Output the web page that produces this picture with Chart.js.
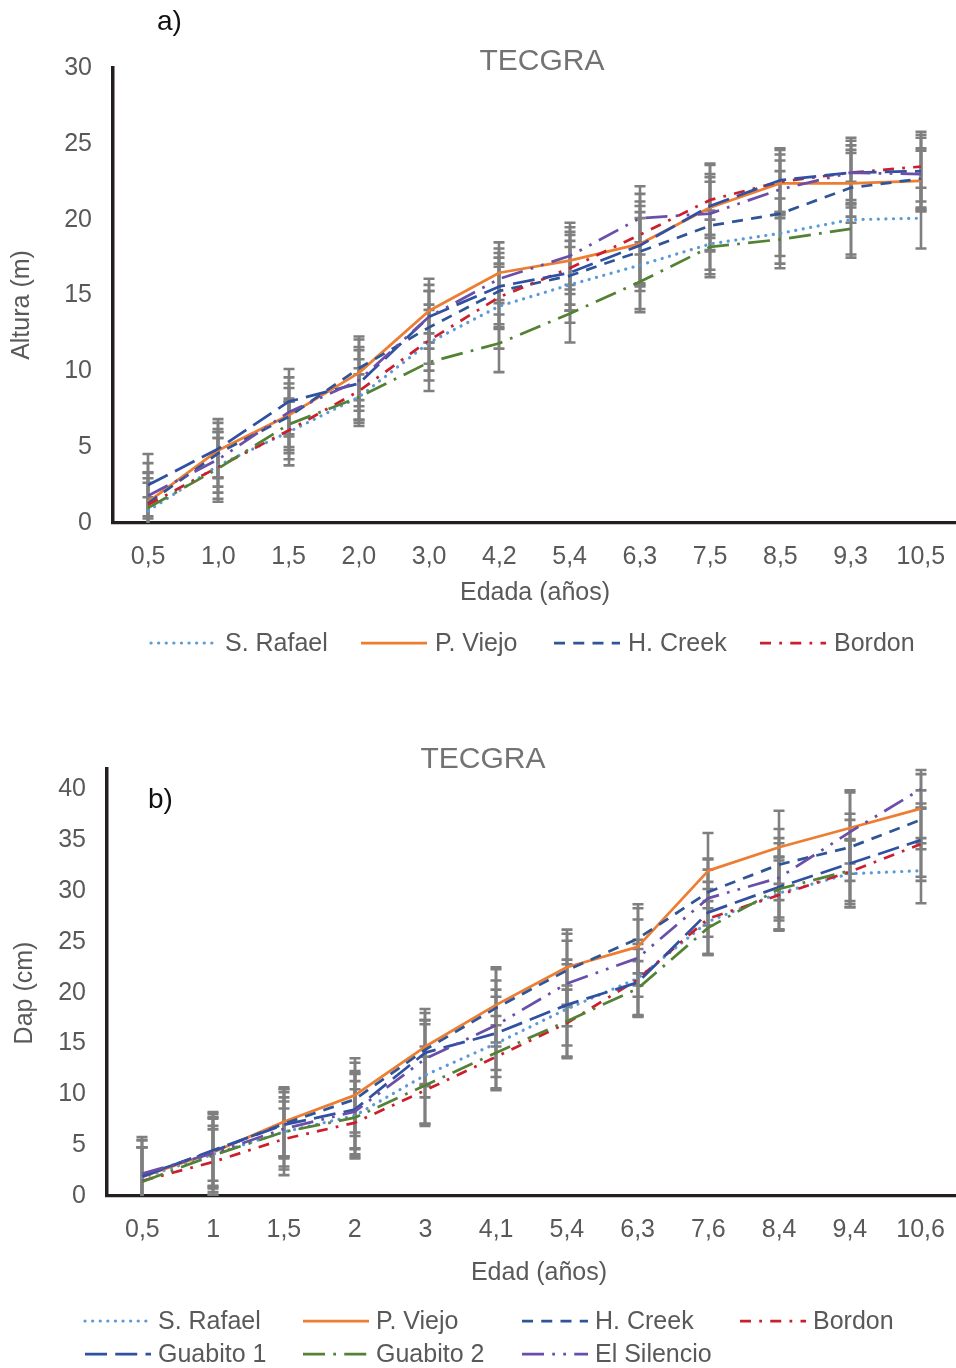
<!DOCTYPE html>
<html>
<head>
<meta charset="utf-8">
<script src="https://cdn.jsdelivr.net/npm/chart.js@4.4.1/dist/chart.umd.min.js"></script>
<style>
  html, body { margin: 0; padding: 0; background: #ffffff; }
  #wrap { position: relative; width: 956px; height: 1368px; overflow: hidden; }
  .panel { position: absolute; left: 0; width: 956px; height: 684px; }
</style>
</head>
<body>
<div id="wrap">
  <div class="panel" style="top:0"><canvas id="chartAltura" width="956" height="684"></canvas></div>
  <div class="panel" style="top:684px"><canvas id="chartDap" width="956" height="684"></canvas></div>
</div>
<script>
// ---- Series names ----
const seriesNames = ['S. Rafael', 'P. Viejo', 'H. Creek', 'Bordon', 'Guabito 1', 'Guabito 2', 'El Silencio'];

// ---- a) Altura (m) by age ----
const edadAltura = ['0,5', '1,0', '1,5', '2,0', '3,0', '4,2', '5,4', '6,3', '7,5', '8,5', '9,3', '10,5'];
const alturaSRafael  = [0.8, 3.8, 6.0, 8.3, 11.9, 14.3, 15.7, 17.0, 18.4, 19.1, 20.0, 20.1];
const alturaPViejo   = [1.4, 4.8, 7.1, 9.9, 14.0, 16.5, 17.3, 18.4, 20.8, 22.4, 22.4, 22.55];
const alturaHCreek   = [1.3, 4.6, 7.0, 10.2, 12.9, 15.3, 16.3, 17.9, 19.6, 20.4, 22.1, 22.7];
const alturaBordon   = [1.2, 3.7, 6.1, 8.7, 12.05, 14.9, 16.8, 19.0, 21.3, 22.5, 23.1, 23.5];
const alturaGuabito1 = [2.5, 4.9, 8.0, 9.2, 13.6, 15.6, 16.5, 18.3, 20.9, 22.6, 23.1, 23.2];
const alturaGuabito2 = [1.0, 3.6, 6.5, 8.3, 10.6, 11.85, 13.8, 15.9, 18.2, 18.7, 19.4, null];
const alturaSilencio = [1.8, 4.2, 7.3, 9.4, 13.6, 16.1, 17.6, 20.1, 20.4, 22.0, 23.1, 23.0];

// standard deviations (error bars), a)
const sdAlturaSRafael  = [2.15, 1.8, 2.2, 1.9, 2.5, 2.8, 2.5, 3.1, 2.2, 2.3, 2.5, 2.0];
const sdAlturaPViejo   = [1.95, 1.8, 2.5, 2.2, 2.1, 2.0, 2.2, 2.8, 2.9, 1.9, 2.2, 2.0];
const sdAlturaHCreek   = [2.0, 1.6, 2.2, 2.1, 2.4, 2.5, 2.3, 2.6, 2.9, 2.8, 2.3, 2.0];
const sdAlturaBordon   = [1.45, 2.3, 1.9, 2.1, 2.0, 2.0, 2.4, 3.2, 2.3, 2.1, 2.1, 2.3];
const sdAlturaGuabito1 = [2.05, 1.95, 2.15, 2.4, 2.1, 2.5, 2.5, 2.6, 2.1, 2.1, 2.3, 2.4];
const sdAlturaGuabito2 = [0.7, 2.0, 1.5, 1.5, 1.9, 1.9, 1.9, 1.8, 1.8, 1.6, 1.7, null];
const sdAlturaSilencio = [2.15, 1.8, 1.6, 2.0, 1.7, 1.4, 2.2, 1.6, 2.4, 1.9, 1.8, 2.4];
const alturaTicks = { min: 0, max: 30, step: 5 };

// ---- b) Dap (cm) by age ----
const edadDap = ['0,5', '1', '1,5', '2', '3', '4,1', '5,4', '6,3', '7,6', '8,4', '9,4', '10,6'];
const dapSRafael  = [1.8, 4.1, 6.3, 7.9, 11.9, 15.0, 18.4, 21.4, 27.0, 29.8, 31.7, 32.0];
const dapPViejo   = [1.9, 4.3, 7.3, 9.9, 14.7, 18.8, 22.5, 24.5, 32.0, 34.3, 36.2, 38.1];
const dapHCreek   = [2.0, 4.4, 7.1, 9.5, 14.4, 18.5, 22.2, 25.3, 29.9, 32.6, 34.3, 37.0];
const dapBordon   = [1.5, 3.35, 5.6, 7.2, 10.4, 13.7, 17.0, 21.3, 27.3, 29.6, 31.9, 34.6];
const dapGuabito1 = [1.9, 4.5, 7.0, 8.5, 14.1, 16.0, 18.8, 21.0, 27.9, 30.4, 32.7, 35.0];
const dapGuabito2 = [1.4, 4.0, 6.3, 7.7, 10.9, 14.1, 17.2, 20.4, 26.4, 30.2, 32.0, null];
const dapSilencio = [2.2, 4.2, 6.6, 8.3, 13.5, 16.8, 20.9, 23.4, 29.3, 31.3, 35.8, 40.0];

// standard deviations (error bars), b)
const sdDapSRafael  = [3.0, 4.0, 4.25, 4.2, 5.0, 4.6, 4.85, 3.8, 3.2, 3.6, 3.3, 3.2];
const sdDapPViejo   = [2.9, 3.4, 3.4, 3.65, 3.7, 3.7, 3.7, 3.8, 3.7, 3.6, 3.5, 3.4];
const sdDapHCreek   = [3.5, 3.4, 3.4, 3.6, 3.6, 3.8, 3.6, 3.4, 3.3, 3.5, 3.3, 2.9];
const sdDapBordon   = [3.3, 3.2, 3.0, 3.3, 3.3, 3.1, 3.3, 3.5, 3.6, 3.4, 3.2, 3.6];
const sdDapGuabito1 = [3.6, 3.75, 3.2, 3.8, 3.2, 4.3, 4.0, 3.3, 4.2, 4.3, 4.3, 3.6];
const sdDapGuabito2 = [3.4, 3.6, 3.4, 3.6, 3.8, 3.6, 3.5, 2.7, 2.6, 3.1, 3.0, null];
const sdDapSilencio = [3.6, 2.7, 2.7, 3.7, 3.8, 4.4, 4.2, 3.8, 3.8, 3.9, 4.1, 1.9];
const dapTicks = { min: 0, max: 42, step: 5 };

// ---- Line styles (one per series) ----
const W = 2.75;
const lineStyles = [
  { color: '#5B9BD5', dash: [0.1, 7.5], cap: 'round', width: 3.2 },          // dotted
  { color: '#ED7D31', dash: [], cap: 'butt', width: W },                      // solid
  { color: '#2F5597', dash: [4 * W, 3 * W], cap: 'butt', width: W },         // dash
  { color: '#CC1F2D', dash: [4 * W, 3 * W, W, 3 * W], cap: 'butt', width: W }, // dash dot
  { color: '#3050A2', dash: [8 * W, 3 * W], cap: 'butt', width: W },         // long dash
  { color: '#548235', dash: [8 * W, 3 * W, W, 3 * W], cap: 'butt', width: W }, // long dash dot
  { color: '#6A4FAA', dash: [8 * W, 3 * W, W, 3 * W, W, 3 * W], cap: 'butt', width: W } // long dash dot dot
];

const FONT = '"Liberation Sans", Arial, Helvetica, sans-serif';
const TEXT_GRAY = '#595959';

function buildDatasets(values, errors) {
  return values.map((vals, i) => ({
    label: seriesNames[i],
    data: vals,
    errors: errors[i],
    borderColor: lineStyles[i].color,
    backgroundColor: lineStyles[i].color,
    borderWidth: lineStyles[i].width,
    borderDash: lineStyles[i].dash,
    borderCapStyle: lineStyles[i].cap,
    borderJoinStyle: 'round',
    pointRadius: 0,
    pointHoverRadius: 0,
    tension: 0,
    fill: false,
    spanGaps: false,
    order: values.length - i
  }));
}

// Vertical error bars with caps, drawn behind the lines.
const errorBarPlugin = {
  id: 'errorBars',
  beforeDatasetsDraw(chart, args, opts) {
    const { ctx, chartArea: a } = chart;
    const xs = chart.scales.x, ys = chart.scales.y;
    ctx.save();
    ctx.beginPath();
    ctx.rect(a.left, a.top - 4, a.right - a.left, a.bottom - a.top + 4);
    ctx.clip();
    ctx.strokeStyle = opts.color;
    ctx.lineWidth = opts.width;
    ctx.lineCap = 'butt';
    chart.data.datasets.forEach(ds => {
      ds.data.forEach((v, i) => {
        const e = ds.errors ? ds.errors[i] : null;
        if (v == null || e == null) return;
        const px = Math.round(xs.getPixelForValue(i));
        const top = ys.getPixelForValue(v + e);
        const bot = ys.getPixelForValue(v - e);
        ctx.beginPath();
        ctx.moveTo(px, top); ctx.lineTo(px, bot);
        ctx.moveTo(px - opts.cap, top); ctx.lineTo(px + opts.cap, top);
        ctx.moveTo(px - opts.cap, bot); ctx.lineTo(px + opts.cap, bot);
        ctx.stroke();
      });
    });
    ctx.restore();
  }
};

// Panel letter, chart title, axis titles and legend.
const panelTextPlugin = {
  id: 'panelText',
  afterDraw(chart, args, o) {
    const ctx = chart.ctx;
    ctx.save();
    ctx.textBaseline = 'middle';

    ctx.fillStyle = '#111111';
    ctx.textAlign = 'left';
    ctx.font = '28px ' + FONT;
    ctx.fillText(o.letter, o.letterX, o.letterY);

    ctx.fillStyle = '#737373';
    ctx.textAlign = 'center';
    ctx.font = '30px ' + FONT;
    ctx.fillText(o.title, o.titleX, o.titleY);

    ctx.fillStyle = TEXT_GRAY;
    ctx.font = '25px ' + FONT;
    ctx.fillText(o.xTitle, o.xTitleX, o.xTitleY);

    ctx.save();
    ctx.translate(o.yTitleX, o.yTitleY);
    ctx.rotate(-Math.PI / 2);
    ctx.fillText(o.yTitle, 0, 0);
    ctx.restore();

    ctx.textAlign = 'left';
    o.legend.forEach(item => {
      const ds = chart.data.datasets[item.index];
      ctx.save();
      ctx.strokeStyle = ds.borderColor;
      ctx.lineWidth = ds.borderWidth;
      ctx.lineCap = ds.borderCapStyle;
      ctx.setLineDash(ds.borderDash);
      ctx.beginPath();
      ctx.moveTo(item.x, item.y);
      ctx.lineTo(item.x + o.sampleLen, item.y);
      ctx.stroke();
      ctx.restore();
      ctx.fillStyle = TEXT_GRAY;
      ctx.fillText(ds.label, item.x + o.textOffset, item.y + 1);
    });
    ctx.restore();
  }
};

function makeChart(canvasId, labels, values, errors, ticks, geom, text) {
  return new Chart(document.getElementById(canvasId), {
    type: 'line',
    data: { labels: labels, datasets: buildDatasets(values, errors) },
    plugins: [errorBarPlugin, panelTextPlugin],
    options: {
      responsive: false,
      animation: false,
      events: [],
      layout: { padding: { left: 0, right: 0, top: geom.top, bottom: 0 } },
      plugins: {
        legend: { display: false },
        title: { display: false },
        tooltip: { enabled: false },
        errorBars: { color: '#7F7F7F', width: 2.6, cap: 5.5 },
        panelText: text
      },
      scales: {
        x: {
          type: 'category',
          offset: true,
          grid: { display: false, drawTicks: false },
          border: { display: true, color: '#231F20', width: 3.2 },
          ticks: { color: TEXT_GRAY, font: { family: FONT, size: 25 }, padding: geom.xPad, maxRotation: 0, autoSkip: false },
          afterFit(scale) {
            scale.height = geom.xHeight;
            scale.paddingLeft = 0;
            scale.paddingRight = 0;
          }
        },
        y: {
          min: ticks.min,
          max: ticks.max,
          grid: { display: false, drawTicks: false },
          border: { display: true, color: '#231F20', width: 3.5 },
          ticks: { stepSize: ticks.step, includeBounds: false, color: TEXT_GRAY, font: { family: FONT, size: 25 }, padding: geom.yPad },
          afterBuildTicks(scale) {
            // regular steps from the minimum up to the axis maximum
            const list = [];
            for (let v = ticks.min; v <= ticks.max + 1e-9; v += ticks.step) list.push({ value: v });
            scale.ticks = list;
          },
          afterFit(scale) {
            scale.width = geom.left;
            scale.paddingTop = 0;
            scale.paddingBottom = 0;
          }
        }
      }
    }
  });
}

makeChart('chartAltura', edadAltura,
  [alturaSRafael, alturaPViejo, alturaHCreek, alturaBordon, alturaGuabito1, alturaGuabito2, alturaSilencio],
  [sdAlturaSRafael, sdAlturaPViejo, sdAlturaHCreek, sdAlturaBordon, sdAlturaGuabito1, sdAlturaGuabito2, sdAlturaSilencio],
  alturaTicks,
  { top: 68, left: 113, xHeight: 161, xPad: 19, yPad: 21 },
  {
    letter: 'a)', letterX: 157, letterY: 22,
    title: 'TECGRA', titleX: 542, titleY: 62,
    xTitle: 'Edada (años)', xTitleX: 535, xTitleY: 593,
    yTitle: 'Altura (m)', yTitleX: 22, yTitleY: 305,
    sampleLen: 66, textOffset: 74,
    legend: [
      { index: 0, x: 151, y: 643 },
      { index: 1, x: 361, y: 643 },
      { index: 2, x: 554, y: 643 },
      { index: 3, x: 760, y: 643 }
    ]
  });

makeChart('chartDap', edadDap,
  [dapSRafael, dapPViejo, dapHCreek, dapBordon, dapGuabito1, dapGuabito2, dapSilencio],
  [sdDapSRafael, sdDapPViejo, sdDapHCreek, sdDapBordon, sdDapGuabito1, sdDapGuabito2, sdDapSilencio],
  dapTicks,
  { top: 85, left: 107, xHeight: 172, xPad: 19, yPad: 21 },
  {
    letter: 'b)', letterX: 148, letterY: 116,
    title: 'TECGRA', titleX: 483, titleY: 76,
    xTitle: 'Edad (años)', xTitleX: 539, xTitleY: 589,
    yTitle: 'Dap (cm)', yTitleX: 25, yTitleY: 309,
    sampleLen: 66, textOffset: 73,
    legend: [
      { index: 0, x: 85, y: 637 },
      { index: 1, x: 303, y: 637 },
      { index: 2, x: 522, y: 637 },
      { index: 3, x: 740, y: 637 },
      { index: 4, x: 85, y: 670 },
      { index: 5, x: 303, y: 670 },
      { index: 6, x: 522, y: 670 }
    ]
  });
</script>
</body>
</html>
